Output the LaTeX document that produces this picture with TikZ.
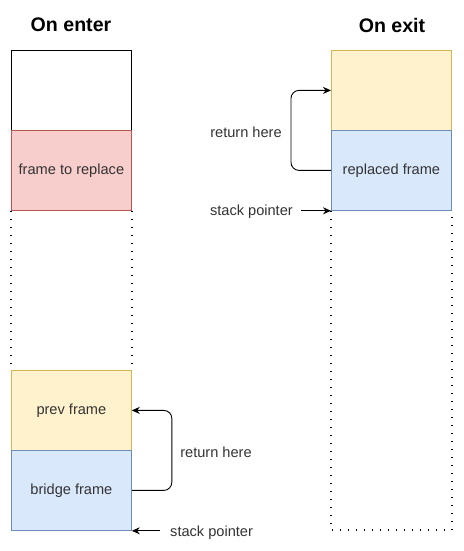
\documentclass[tikz,border=0pt]{standalone}
\usepackage{fontspec}
\setmainfont{Liberation Sans}
\usetikzlibrary{arrows.meta}
\definecolor{redfill}{HTML}{F8CECC}
\definecolor{redline}{HTML}{B85450}
\definecolor{yelfill}{HTML}{FFF2CC}
\definecolor{yelline}{HTML}{D6B656}
\definecolor{bluefill}{HTML}{DAE8FC}
\definecolor{blueline}{HTML}{6C8EBF}
\definecolor{txt}{HTML}{333333}
\begin{document}
\begin{tikzpicture}[x=1pt,y=-1pt,
  frame/.style={minimum width=120pt,minimum height=80pt,inner sep=0pt,anchor=north west,draw,line width=0.8pt,font=\fontsize{14.6}{17}\selectfont,text=txt},
  whitebox/.style={frame,draw=black,fill=white},
  redbox/.style={frame,draw=redline,fill=redfill},
  yelbox/.style={frame,draw=yelline,fill=yelfill},
  bluebox/.style={frame,draw=blueline,fill=bluefill},
  title/.style={font=\fontsize{19.6}{23}\selectfont\bfseries},
  lbl/.style={font=\fontsize{14.6}{17}\selectfont,text=txt,inner sep=0pt},
  dots/.style={line width=1.5pt,dash pattern=on 1.5pt off 6.5pt},
  arr/.style={-{Stealth[length=8pt,width=7pt]},line width=0.9pt,rounded corners=8pt}]
\useasboundingbox (0,0) rectangle (463,551);
\node[title] (t1) at (71,25) {On enter};
\node[title] (t2) at (392,25) {On exit};
% left column
\node[whitebox] (top) at (11,50) {};
\node[redbox] (replace) at (11,130) {frame to replace};
\node[yelbox] (prev) at (11,370) {prev frame};
\node[bluebox] (bridge) at (11,450) {bridge frame};
\draw[dots] (replace.south west) -- (prev.north west);
\draw[dots] (replace.south east) -- (prev.north east);
% right column
\node[yelbox] (ret) at (331,50) {};
\node[bluebox] (replaced) at (331,130) {replaced frame};
\coordinate (rbot) at (331,530);
\draw[dots] (replaced.south west) -- (rbot) -| (replaced.south east);
% connectors left
\draw[arr] (bridge.east) -- ++(40,0) |- (prev.east);
\node[lbl] (rh1) at (216,452) {return here};
\node[lbl,anchor=west] (sp1) at (170,533) {stack pointer};
\coordinate (sp1a) at (sp1.west |- bridge.south east);
\draw[arr,rounded corners=0pt] ([xshift=-10pt]sp1a) -- (bridge.south east);
% connectors right
\draw[arr] (replaced.west) -- ++(-40,0) |- (ret.west);
\node[lbl] (rh2) at (246,132) {return here};
\node[lbl,anchor=east] (sp2) at (293,212) {stack pointer};
\coordinate (sp2a) at (sp2.east |- replaced.south west);
\draw[arr,rounded corners=0pt] ([xshift=8pt]sp2a) -- (replaced.south west);
\end{tikzpicture}
\end{document}
